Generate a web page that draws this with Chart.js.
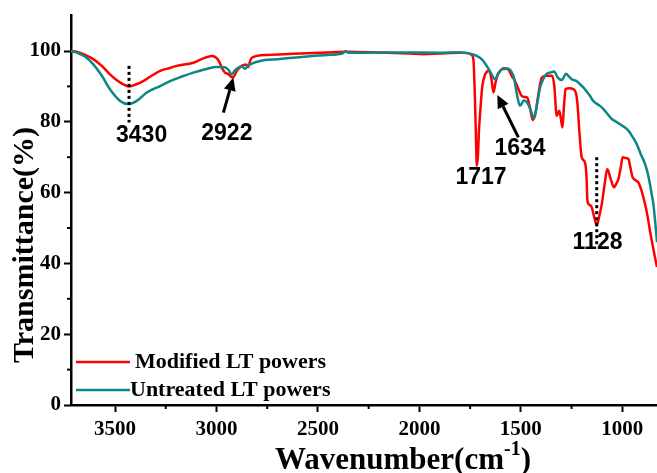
<!DOCTYPE html>
<html><head><meta charset="utf-8">
<script src="https://cdn.jsdelivr.net/npm/chart.js@4.4.0/dist/chart.umd.min.js"></script>
<style>html,body{margin:0;padding:0;background:#fff;}#wrap{width:657px;height:473px;position:relative;}</style>
</head><body><div id="wrap"><canvas id="c" width="657" height="473"></canvas></div>
<script>
// ---- data ----
const modifiedWn = [3717,3690,3650,3607,3560,3525,3475,3430,3395,3361,3320,3278,3230,3196,3114,3065,3023,2999,2985,2974,2958,2942,2930,2920,2910,2900,2876,2854,2843,2835,2826,2752,2621,2457,2350,2200,2050,1980,1900,1800,1760,1745,1734,1727,1721,1717,1712,1706,1701,1690,1676,1655,1645,1635,1625,1616,1600,1586,1562,1545,1529,1510,1496,1480,1468,1455,1441,1430,1422,1410,1397,1372,1345,1335,1323,1310,1295,1288,1280,1260,1241,1228,1221,1210,1200,1184,1176,1172,1160,1151,1138,1126,1115,1101,1088,1074,1058,1041,1030,1019,1008,998,985,970,960,949,935,921,905,888,876,864,850,840,829];
const modifiedT  = [100,99.8,99,97.7,95.5,93.4,91.1,90.0,90.6,91.5,93,94.4,95.2,95.8,96.7,97.9,98.6,98,96.8,95.3,93.9,93.5,92.8,92.5,93.2,94.4,95.8,96.2,95.5,97,98.1,98.9,99.2,99.6,99.8,99.6,99.3,99.1,99.3,99.5,99.4,99,97.7,88,75,67.6,70,78,82.2,90,93.4,94.4,92,88.3,91,93,94.5,95.1,94.8,93,91.5,89,87.3,87,86.8,84,80.5,82,84.5,89,92.5,93,93,90,81.7,83.1,78.4,84,89.2,89.5,89.2,88,85,76,70,68.5,64,57.7,56.5,55.9,53,50.7,53,56.8,62,66.7,64,61.5,62.5,63.9,67,70,69.8,69.5,67,64.3,63.5,62.9,60.5,56.8,53.5,49.3,45,42,39];
const untreatedWn = [3717,3690,3650,3607,3565,3525,3475,3434,3393,3344,3278,3229,3170,3114,3050,2999,2958,2940,2925,2912,2900,2875,2859,2845,2820,2785,2700,2621,2540,2457,2380,2365,2345,2292,2100,1900,1800,1759,1740,1717,1690,1668,1645,1627,1610,1594,1562,1545,1534,1520,1504,1485,1468,1450,1435,1420,1405,1390,1372,1355,1336,1318,1298,1277,1266,1249,1225,1208,1192,1175,1159,1143,1110,1093,1070,1052,1030,1011,990,970,950,929,910,888,875,864,855,847,840,834,829];
const untreatedT  = [100,99.6,98.5,96.2,93,89.2,85.9,85,85.9,88.3,90.1,91.5,92.8,93.9,94.9,95.5,95.4,94.6,93.4,94.3,95,95.6,95,95.8,96.6,97.2,97.7,98.1,98.5,98.9,99.3,99.9,99.5,99.5,99.6,99.5,99.6,99.4,99.1,98.6,97.5,95.8,93.5,92,93.8,94.8,95,94,92.5,88,84.5,86,85.4,83,81,85,89.7,92,93.6,93.9,94.2,92.5,91.8,93.6,93,92,91.5,90.6,89.7,88.5,87.3,85.9,84.5,83.6,82,80.8,80,79.3,78.5,77.5,75.8,73.7,71,68.1,65.5,62.5,59.5,56.8,53,49.3,46];
const seriesNames = ['Modified LT powers','Untreated LT powers'];
const seriesColors = ['#ff0000','#0e8686'];
const peakLabels = ['3430','2922','1717','1634','1128'];
const xTickValues = [3500,3000,2500,2000,1500,1000];
const yTickValues = [0,20,40,60,80,100];
const yMinorTicks = [10,30,50,70,90];
const xMinorTicks = [3250,2750,2250,1750,1250];

const toPts = (xs, ys) => xs.map((x,i)=>({x:x, y:ys[i]}));
const SERIF = 'Liberation Serif';
const SANS = 'Liberation Sans';

const overlay = {
  id:'overlay',
  afterDraw(chart){
    const c = chart.ctx, xs = chart.scales.x, ys = chart.scales.y, a = chart.chartArea;
    const X = v => xs.getPixelForValue(v), Y = v => ys.getPixelForValue(v);
    c.save();
    // minor ticks
    c.strokeStyle = '#000'; c.lineWidth = 2;
    yMinorTicks.forEach(v=>{ c.beginPath(); c.moveTo(a.left-4, Y(v)); c.lineTo(a.left, Y(v)); c.stroke(); });
    xMinorTicks.forEach(v=>{ c.beginPath(); c.moveTo(X(v), a.bottom); c.lineTo(X(v), a.bottom+4); c.stroke(); });
    // dotted markers
    c.setLineDash([3,3]); c.lineWidth = 3;
    [[3431,95.8,79.8],[1126,70,45]].forEach(d=>{ c.beginPath(); c.moveTo(X(d[0]),Y(d[1])); c.lineTo(X(d[0]),Y(d[2])); c.stroke(); });
    c.setLineDash([]);
    // arrows
    const arrow = (x1,y1,x2,y2)=>{
      const px1=X(x1),py1=Y(y1),px2=X(x2),py2=Y(y2);
      const ang=Math.atan2(py2-py1,px2-px1), L=13, W=6;
      const bx=px2-L*Math.cos(ang), by=py2-L*Math.sin(ang);
      c.lineWidth=3; c.beginPath(); c.moveTo(px1,py1); c.lineTo(bx,by); c.stroke();
      c.fillStyle='#000'; c.beginPath(); c.moveTo(px2,py2);
      c.lineTo(bx+W*Math.sin(ang), by-W*Math.cos(ang));
      c.lineTo(bx-W*Math.sin(ang), by+W*Math.cos(ang)); c.closePath(); c.fill();
    };
    arrow(2966,82.6,2917,92.5);
    arrow(1512,75.6,1616,87.6);
    // peak labels
    c.fillStyle='#000'; c.font = 'bold 23px "'+SANS+'"'; c.textAlign='center'; c.textBaseline='middle';
    const pos = [[3369,76],[2949,76.6],[1696,64.3],[1504,72.3],[1122,46]];
    peakLabels.forEach((t,i)=>c.fillText(t, X(pos[i][0]), Y(pos[i][1])));
    // legend
    c.font = 'bold 22px "'+SERIF+'"'; c.textAlign='left';
    const ly = [362, 390];
    seriesNames.forEach((n,i)=>{
      c.strokeStyle = seriesColors[i]; c.lineWidth = 2.5;
      c.beginPath(); c.moveTo(a.left+5, ly[i]); c.lineTo(a.left+59, ly[i]); c.stroke();
      c.fillStyle='#000'; c.fillText(n, a.left + (i===0?64:59), ly[i]);
    });
    // x title with superscript
    c.textBaseline='alphabetic';
    const f1='bold 31px "'+SERIF+'"', f2='bold 20px "'+SERIF+'"';
    c.font=f1; const w1=c.measureText('Wavenumber(cm').width, w3=c.measureText(')').width;
    c.font=f2; const w2=c.measureText('-1').width;
    let sx = 403 - (w1+w2+w3)/2, by = 469;
    c.font=f1; c.fillText('Wavenumber(cm', sx, by);
    c.font=f2; c.fillText('-1', sx+w1, by-14);
    c.font=f1; c.fillText(')', sx+w1+w2, by);
    // y title
    c.save(); c.translate(25, 245); c.rotate(-Math.PI/2);
    c.font='bold 30px "'+SERIF+'"'; c.textAlign='center'; c.textBaseline='middle';
    c.fillText('Transmittance(%)', 0, 0); c.restore();
    c.restore();
  }
};

new Chart(document.getElementById('c'), {
  type:'line',
  data:{datasets:[
    {label:seriesNames[1], data:toPts(untreatedWn, untreatedT), borderColor:seriesColors[1], borderWidth:2.5, pointRadius:0, cubicInterpolationMode:'monotone', order:0, fill:false},
    {label:seriesNames[0], data:toPts(modifiedWn, modifiedT), borderColor:seriesColors[0], borderWidth:2.5, pointRadius:0, cubicInterpolationMode:'monotone', order:1, fill:false}
  ]},
  options:{
    responsive:false, animation:false, events:[],
    layout:{padding:{top:14,right:0,left:0,bottom:0}},
    plugins:{legend:{display:false}, tooltip:{enabled:false}},
    scales:{
      x:{type:'linear', reverse:true, min:829, max:3717,
        afterBuildTicks:s=>{ s.ticks = xTickValues.map(v=>({value:v})); },
        ticks:{callback:v=>String(v), font:{family:SERIF, weight:'bold', size:21}, color:'#000', padding:5, maxRotation:0, autoSkip:false},
        grid:{drawOnChartArea:false, drawTicks:true, tickLength:7, tickColor:'#000', tickWidth:2},
        border:{display:true, color:'#000', width:2.5},
        afterFit:s=>{s.height=68;}},
      y:{type:'linear', min:0, max:110,
        afterBuildTicks:s=>{ s.ticks = yTickValues.map(v=>({value:v})); },
        ticks:{callback:v=>String(v), font:{family:SERIF, weight:'bold', size:21}, color:'#000', padding:3},
        grid:{drawOnChartArea:false, drawTicks:true, tickLength:7, tickColor:'#000', tickWidth:2},
        border:{display:true, color:'#000', width:2.5},
        afterFit:s=>{s.width=71;}}
    }
  },
  plugins:[overlay]
});
</script></body></html>
